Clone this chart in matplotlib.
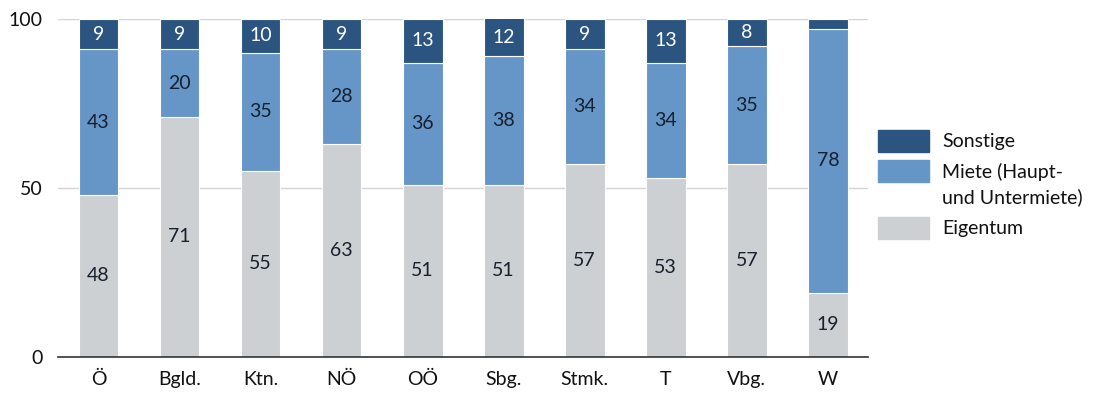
import numpy as np
import matplotlib
matplotlib.use("Agg")
import matplotlib.pyplot as plt
from matplotlib.patches import Rectangle

plt.rcParams['font.family'] = ['Lato', 'DejaVu Sans']

# data
regions = ['Ö', 'Bgld.', 'Ktn.', 'NÖ', 'OÖ', 'Sbg.', 'Stmk.', 'T', 'Vbg.', 'W']
eigentum = [48, 71, 55, 63, 51, 51, 57, 53, 57, 19]
miete = [43, 20, 35, 28, 36, 38, 34, 34, 35, 78]
sonstige = [9, 9, 10, 9, 13, 12, 9, 13, 8, 3]
sonstige_labels = ['9', '9', '10', '9', '13', '12', '9', '13', '8', '']

c_eig = '#cdd0d3'
c_miete = '#6596c7'
c_sonst = '#2b5580'
c_text = '#16202e'

W, H = 1095, 394
fig = plt.figure(figsize=(W / 100, H / 100), dpi=100)
ax = fig.add_axes([0.053, 0.094, 0.74, 0.858])

x = np.arange(len(regions))
w = 0.49
b1 = ax.bar(x, eigentum, w, color=c_eig, edgecolor='white', linewidth=0.8, zorder=2)
b2 = ax.bar(x, miete, w, bottom=eigentum, color=c_miete, edgecolor='white', linewidth=0.8, zorder=2)
bottom3 = np.array(eigentum) + np.array(miete)
b3 = ax.bar(x, sonstige, w, bottom=bottom3, color=c_sonst, edgecolor='white', linewidth=0.8, zorder=2)

ax.bar_label(b1, labels=[str(v) for v in eigentum], label_type='center', color=c_text, fontsize=14)
ax.bar_label(b2, labels=[str(v) for v in miete], label_type='center', color=c_text, fontsize=14)
ax.bar_label(b3, labels=sonstige_labels, label_type='center', color='white', fontsize=14)

ax.set_xlim(-0.5, len(regions) - 0.5)
ax.set_ylim(0, 100)
ax.set_yticks([0, 50, 100])
ax.set_xticks(x)
ax.set_xticklabels(regions)
ax.tick_params(axis='both', length=0, labelsize=14, colors='#111111')
ax.tick_params(axis='y', pad=11)
ax.tick_params(axis='x', pad=10)
ax.grid(axis='y', color='#d4d4d4', linewidth=1, zorder=0)
for s in ['top', 'right', 'left']:
    ax.spines[s].set_visible(False)
ax.spines['bottom'].set_color('#333333')
ax.spines['bottom'].set_linewidth(1.2)
ax.spines['bottom'].set_zorder(3)

# legend drawn by hand so the box sits next to the first text line
legend_items = [(c_sonst, 'Sonstige', 130), (c_miete, 'Miete (Haupt-\nund Untermiete)', 160),
                (c_eig, 'Eigentum', 217)]
for col, txt, top in legend_items:
    fig.patches.append(Rectangle((878 / W, 1 - (top + 22) / H), 51 / W, 22 / H,
                                 transform=fig.transFigure, color=col))
    fig.text(942 / W, 1 - (top + 3) / H, txt, fontsize=14, color='#111111',
             va='top', ha='left', linespacing=1.45)

fig.savefig('out.png', dpi=100)
